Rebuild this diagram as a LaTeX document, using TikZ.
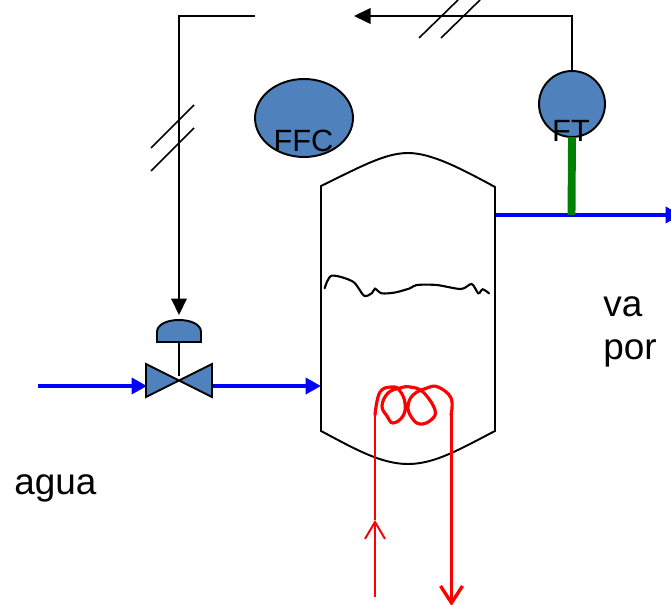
\documentclass[tikz,border=0pt]{standalone}
\usepackage{fontspec}
\setmainfont{Liberation Sans}
\usetikzlibrary{arrows.meta, shapes.geometric}
\definecolor{instblue}{RGB}{79, 129, 189}

\tikzset{
  instrument/.style={draw=black, fill=instblue, line width=1.1pt, inner sep=0pt, outer sep=0pt},
  signal/.style={line width=1.1pt, -{Triangle[length=0.33cm, width=0.31cm]}},
  steam/.style={blue, line width=2.6pt, -{Triangle[length=0.31cm, width=0.32cm]}},
  tag/.style={font=\fontsize{17.5}{20}\selectfont, inner sep=0pt},
  caption/.style={font=\fontsize{21}{25}\selectfont, inner sep=0pt, anchor=base west},
}

\begin{document}
\begin{tikzpicture}[x=0.02cm, y=-0.02cm]
  \useasboundingbox (0,0) rectangle (671,604);

  % Instruments
  \node[instrument, ellipse, minimum width=1.96cm, minimum height=1.56cm] (ffc) at (304,118) {};
  \node[instrument, circle, minimum size=1.32cm] (ft) at (572,104) {};

  % Free ends of the lines
  \coordinate (ftcorner) at (572,16);
  \coordinate (ftend) at (354,16);
  \coordinate (ffcstart) at (255,16);
  \coordinate (ffccorner) at (179,16);
  \coordinate (actuatortop) at (179,315);
  \coordinate (feedin) at (38,386);
  \coordinate (valveleft) at (147,386);
  \coordinate (valveright) at (212,386);
  \coordinate (vesselin) at (321,386);
  \coordinate (vesselout) at (496,215);
  \coordinate (steamout) at (681,215);
  \coordinate (taptee) at (571.5,215);

  % Signal lines
  \draw[signal] (ft.north) -- (ftcorner) -- (ftend);
  \draw[signal] (ffcstart) -- (ffccorner) -- (actuatortop);
  \foreach \x in {419,441} {
    \draw[line width=0.9pt] (\x,38) -- (\x+39,0);
  }
  \foreach \y in {148,171} {
    \draw[line width=0.9pt] (151,\y) -- (194,\y-43);
  }

  % Vessel
  \draw[line width=1.1pt] (321,186) .. controls (360,167) and (385,153) .. (408,153)
    .. controls (431,153) and (460,168) .. (495,187) -- (495,431)
    .. controls (460,449) and (435,464) .. (408,464)
    .. controls (381,464) and (355,449) .. (321,431) -- cycle;

  % Liquid level
  \draw[line width=1.2pt, line cap=round] plot[smooth, tension=0.5] coordinates {
    (324.7,288.3) (331.7,275.7) (353,281.7) (364,295.7) (372,293) (375,288.7) (381.7,293.3)
    (395,292.5) (410,288.3) (416.7,285) (436.7,285) (461,289) (471.7,284) (478.3,293.3)
    (482.7,289.3) (489,293.3)};

  % Pipes
  \draw[steam] (feedin) -- (valveleft);
  \draw[steam] (valveright) -- (vesselin);
  \draw[steam] (vesselout) -- (steamout);
  \draw[green!50!black, line width=4.5pt] (ft.south) -- (taptee);

  % Valve and actuator
  \draw[line width=1.1pt] (179,342) -- (179,376);
  \draw[instrument] (157,342) -- (157,332) .. controls (157,324) and (168,320) .. (179,320)
    .. controls (190,320) and (201,324) .. (201,332) -- (201,342) -- cycle;
  \draw[instrument] (146,364) -- (146,397) -- (212,364) -- (212,397) -- cycle;

  % Heating coil
  \draw[red, line width=1.8pt, line cap=round] plot[smooth, tension=0.7] coordinates {
    (375,415) (380,392) (393,387) (400,391) (405,403) (403,416) (393,423) (387,416) (382,406)
    (388,393) (400,388) (410,387) (423,392) (435,410) (431,420) (420,424) (412,418) (408,407)
    (413,395) (427,388) (438,387) (451,398) (451,415)};
  \draw[red, line width=1.1pt, -{Straight Barb[length=0.34cm, width=0.4cm]}] (375,597) -- (375,520);
  \draw[red, line width=1.1pt] (375,520) -- (375,415);
  \draw[red, line width=1.9pt, -{Straight Barb[length=0.34cm, width=0.44cm]}] (451.5,410) -- (451.5,606);

  % Labels
  \node[tag] (ffctag) at (303.5,141) {FFC};
  \node[tag] (fttag) at (571,131) {FT};
  \node[caption] (agua) at (14,494) {agua};
  \node[caption] (va) at (603,316) {va};
  \node[caption] (por) at (603,359) {por};

\end{tikzpicture}
\end{document}
